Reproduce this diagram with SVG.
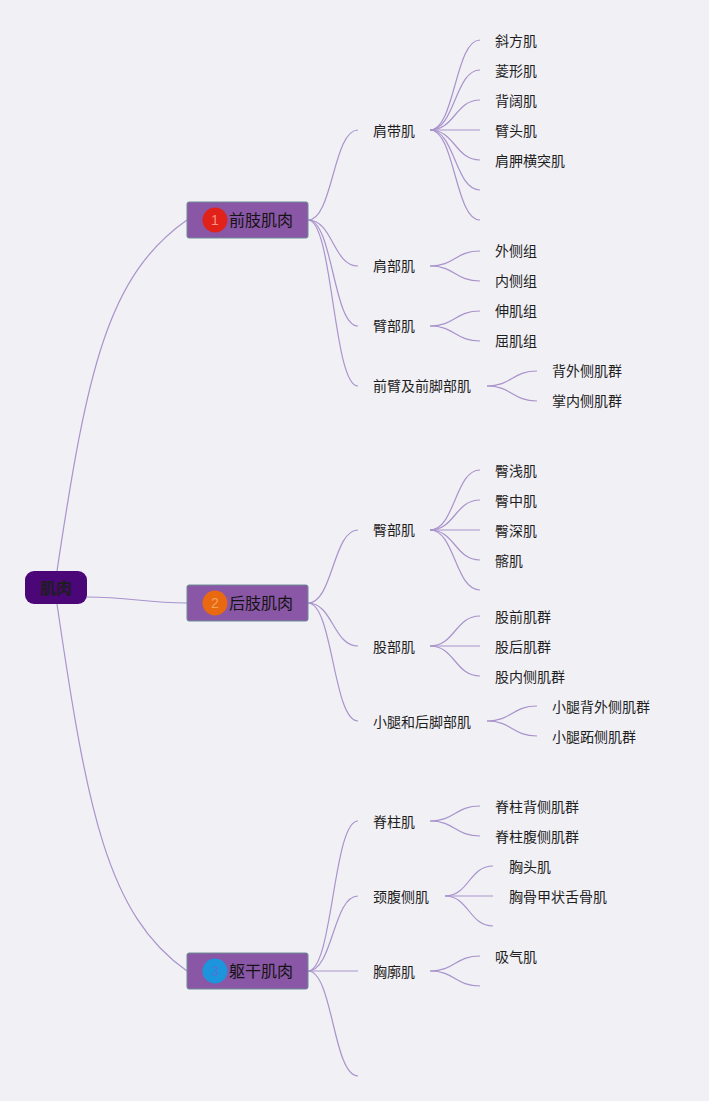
<svg xmlns="http://www.w3.org/2000/svg" width="709" height="1101" viewBox="0 0 709 1101">
<style>
.bg{fill:#f1f0f5}
.c path{fill:none;stroke:#a993cc;stroke-width:1.2}
.t{font-family:"Noto Sans CJK SC","Noto Sans",sans-serif;fill:#1e1e1e}
.l2{font-size:14px}
.l3{font-size:14px}
.l1box{fill:#8a56a6;stroke:#6a8d94;stroke-width:1}
.l1t{font-size:16px;fill:#141414}
.num{font-family:"Liberation Sans",sans-serif;font-size:14px;text-anchor:middle}
</style>
<rect class="bg" x="0" y="0" width="709" height="1101"/>
<g class="c" id="connectors">
<!-- root -->
<path d="M57,571 C87,371 107,276 187,220"/>
<path d="M87,597 C130,597 145,603 187,603"/>
<path d="M57,604 C87,809 107,915 187,971"/>
<!-- 前肢 -->
<path d="M308,220 C333,220 333,130 358,130"/>
<path d="M308,220 C333,220 333,266 358,266"/>
<path d="M308,220 C333,220 333,326 358,326"/>
<path d="M308,220 C333,220 333,386 358,386"/>
<!-- 肩带肌 -->
<path d="M430,130 C455,130 455,40 480,40"/>
<path d="M430,130 C455,130 455,70 480,70"/>
<path d="M430,130 C455,130 455,100 480,100"/>
<path d="M430,130 L480,130"/>
<path d="M430,130 C455,130 455,160 480,160"/>
<path d="M430,130 C455,130 455,190 480,190"/>
<path d="M430,130 C455,130 455,220 480,220"/>
<!-- 肩部肌 -->
<path d="M430,266 C455,266 455,251 480,251"/>
<path d="M430,266 C455,266 455,281 480,281"/>
<!-- 臂部肌 -->
<path d="M430,326 C455,326 455,311 480,311"/>
<path d="M430,326 C455,326 455,341 480,341"/>
<!-- 前臂及前脚部肌 -->
<path d="M487,386 C512,386 512,371 537,371"/>
<path d="M487,386 C512,386 512,401 537,401"/>
<!-- 后肢 -->
<path d="M308,603 C333,603 333,530 358,530"/>
<path d="M308,603 C333,603 333,646 358,646"/>
<path d="M308,603 C333,603 333,721 358,721"/>
<!-- 臀部肌 -->
<path d="M430,530 C455,530 455,470 480,470"/>
<path d="M430,530 C455,530 455,500 480,500"/>
<path d="M430,530 L480,530"/>
<path d="M430,530 C455,530 455,560 480,560"/>
<path d="M430,530 C455,530 455,590 480,590"/>
<!-- 股部肌 -->
<path d="M430,646 C455,646 455,616 480,616"/>
<path d="M430,646 L480,646"/>
<path d="M430,646 C455,646 455,676 480,676"/>
<!-- 小腿和后脚部肌 -->
<path d="M487,721 C512,721 512,706 537,706"/>
<path d="M487,721 C512,721 512,736 537,736"/>
<!-- 躯干 -->
<path d="M308,971 C333,971 333,821 358,821"/>
<path d="M308,971 C333,971 333,896 358,896"/>
<path d="M308,971 L358,971"/>
<path d="M308,971 C333,971 333,1076 358,1076"/>
<!-- 脊柱肌 -->
<path d="M430,821 C455,821 455,806 480,806"/>
<path d="M430,821 C455,821 455,836 480,836"/>
<!-- 颈腹侧肌 -->
<path d="M445,896 C469,896 469,866 493,866"/>
<path d="M445,896 L493,896"/>
<path d="M445,896 C469,896 469,926 493,926"/>
<!-- 胸廓肌 -->
<path d="M430,971 C455,971 455,956 480,956"/>
<path d="M430,971 C455,971 455,986 480,986"/>
</g>
<g id="root">
<rect x="25" y="571" width="62" height="33" rx="9" fill="#4b0678"/>
<text class="t" x="56" y="593.5" font-size="16" font-weight="bold" text-anchor="middle" fill="#111">肌肉</text>
</g>
<g id="n1">
<rect class="l1box" x="187" y="202" width="121" height="36" rx="2"/>
<circle cx="215" cy="220" r="12.5" fill="#e0221a"/>
<text class="num" x="215" y="225" fill="#ff8f7d">1</text>
<text class="t l1t" x="229" y="226">前肢肌肉</text>
</g>
<g id="n2">
<rect class="l1box" x="187" y="585" width="121" height="36" rx="2"/>
<circle cx="215" cy="603" r="12.5" fill="#e8690f"/>
<text class="num" x="215" y="608" fill="#f4a35d">2</text>
<text class="t l1t" x="229" y="609">后肢肌肉</text>
</g>
<g id="n3">
<rect class="l1box" x="187" y="953" width="121" height="36" rx="2"/>
<circle cx="215" cy="971" r="12.5" fill="#1d95dc"/>
<text class="num" x="215" y="976" fill="#4b78d6">3</text>
<text class="t l1t" x="229" y="977">躯干肌肉</text>
</g>
<g id="n1-1"><text class="t l2" x="373" y="136">肩带肌</text></g>
<g id="n1-1-1"><text class="t l3" x="495" y="46">斜方肌</text></g>
<g id="n1-1-2"><text class="t l3" x="495" y="76">菱形肌</text></g>
<g id="n1-1-3"><text class="t l3" x="495" y="106">背阔肌</text></g>
<g id="n1-1-4"><text class="t l3" x="495" y="136">臂头肌</text></g>
<g id="n1-1-5"><text class="t l3" x="495" y="166">肩胛横突肌</text></g>
<g id="n1-2"><text class="t l2" x="373" y="271">肩部肌</text></g>
<g id="n1-2-1"><text class="t l3" x="495" y="256">外侧组</text></g>
<g id="n1-2-2"><text class="t l3" x="495" y="286">内侧组</text></g>
<g id="n1-3"><text class="t l2" x="373" y="331">臂部肌</text></g>
<g id="n1-3-1"><text class="t l3" x="495" y="316">伸肌组</text></g>
<g id="n1-3-2"><text class="t l3" x="495" y="346">屈肌组</text></g>
<g id="n1-4"><text class="t l2" x="373" y="391">前臂及前脚部肌</text></g>
<g id="n1-4-1"><text class="t l3" x="552" y="376">背外侧肌群</text></g>
<g id="n1-4-2"><text class="t l3" x="552" y="406">掌内侧肌群</text></g>
<g id="n2-1"><text class="t l2" x="373" y="535">臀部肌</text></g>
<g id="n2-1-1"><text class="t l3" x="495" y="476">臀浅肌</text></g>
<g id="n2-1-2"><text class="t l3" x="495" y="506">臀中肌</text></g>
<g id="n2-1-3"><text class="t l3" x="495" y="536">臀深肌</text></g>
<g id="n2-1-4"><text class="t l3" x="495" y="566">髂肌</text></g>
<g id="n2-2"><text class="t l2" x="373" y="652">股部肌</text></g>
<g id="n2-2-1"><text class="t l3" x="495" y="622">股前肌群</text></g>
<g id="n2-2-2"><text class="t l3" x="495" y="652">股后肌群</text></g>
<g id="n2-2-3"><text class="t l3" x="495" y="682">股内侧肌群</text></g>
<g id="n2-3"><text class="t l2" x="373" y="727">小腿和后脚部肌</text></g>
<g id="n2-3-1"><text class="t l3" x="552" y="712">小腿背外侧肌群</text></g>
<g id="n2-3-2"><text class="t l3" x="552" y="742">小腿跖侧肌群</text></g>
<g id="n3-1"><text class="t l2" x="373" y="827">脊柱肌</text></g>
<g id="n3-1-1"><text class="t l3" x="495" y="812">脊柱背侧肌群</text></g>
<g id="n3-1-2"><text class="t l3" x="495" y="842">脊柱腹侧肌群</text></g>
<g id="n3-2"><text class="t l2" x="373" y="902">颈腹侧肌</text></g>
<g id="n3-2-1"><text class="t l3" x="509" y="872">胸头肌</text></g>
<g id="n3-2-2"><text class="t l3" x="509" y="902">胸骨甲状舌骨肌</text></g>
<g id="n3-3"><text class="t l2" x="373" y="977">胸廓肌</text></g>
<g id="n3-3-1"><text class="t l3" x="495" y="962">吸气肌</text></g>
</svg>
